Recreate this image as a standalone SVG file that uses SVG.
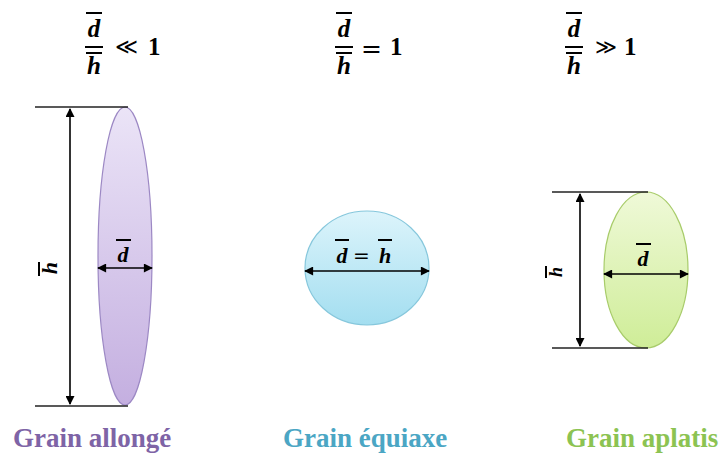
<svg xmlns="http://www.w3.org/2000/svg" width="719" height="454" viewBox="0 0 719 454">
<style>
.m{font-family:"Liberation Serif","DejaVu Serif",serif;font-weight:bold;font-style:italic;fill:#000}
.n{font-family:"Liberation Serif","DejaVu Serif",serif;font-weight:bold;fill:#000}
.op{font-family:"DejaVu Serif","Liberation Serif",serif;fill:#000}
.bar{stroke:#000;stroke-width:2}
.dim{stroke:#000;stroke-width:1.6;fill:none}
.ext{stroke:#222;stroke-width:1.3}
.lbl{font-family:"Liberation Serif","Times New Roman",serif;font-weight:bold;font-size:27px}
</style>
<defs>
<marker id="ah" viewBox="0 0 10 10" refX="9" refY="5" markerWidth="10" markerHeight="9" markerUnits="userSpaceOnUse" orient="auto-start-reverse">
<path d="M0,0 L10,5 L0,10 z" fill="#000"/>
</marker>
<linearGradient id="gp" x1="0" y1="0" x2="0" y2="1"><stop offset="0" stop-color="#ebe4f7"/><stop offset="1" stop-color="#c4afe0"/></linearGradient>
<linearGradient id="gb" x1="0" y1="0" x2="0" y2="1"><stop offset="0" stop-color="#dcf4fb"/><stop offset="1" stop-color="#a3def0"/></linearGradient>
<linearGradient id="gg" x1="0" y1="0" x2="0" y2="1"><stop offset="0" stop-color="#eff9d8"/><stop offset="1" stop-color="#cfed98"/></linearGradient>
</defs>

<g id="title-allonge">
<line class="bar" x1="86" y1="13" x2="102" y2="13"/>
<text class="m" x="94" y="37" font-size="25" text-anchor="middle">d</text>
<line class="bar" x1="85" y1="47" x2="103" y2="47"/>
<line class="bar" x1="86" y1="53" x2="102" y2="53"/>
<text class="m" x="94" y="74" font-size="25" text-anchor="middle">h</text>
<text class="op" x="115" y="54" font-size="22">≪</text>
<text class="n" x="148" y="55" font-size="25">1</text>
</g>

<g id="title-equiaxe">
<line class="bar" x1="336" y1="13" x2="352" y2="13"/>
<text class="m" x="344" y="37" font-size="25" text-anchor="middle">d</text>
<line class="bar" x1="335" y1="47" x2="353" y2="47"/>
<line class="bar" x1="336" y1="53" x2="352" y2="53"/>
<text class="m" x="344" y="74" font-size="25" text-anchor="middle">h</text>
<text class="op" x="361" y="57" font-size="25">=</text>
<text class="n" x="390" y="55" font-size="25">1</text>
</g>

<g id="title-aplatis">
<line class="bar" x1="566" y1="13" x2="582" y2="13"/>
<text class="m" x="574" y="37" font-size="25" text-anchor="middle">d</text>
<line class="bar" x1="565" y1="47" x2="583" y2="47"/>
<line class="bar" x1="566" y1="53" x2="582" y2="53"/>
<text class="m" x="574" y="74" font-size="25" text-anchor="middle">h</text>
<text class="op" x="595" y="54" font-size="21">≫</text>
<text class="n" x="624" y="55" font-size="25">1</text>
</g>

<g id="grain-allonge">
<ellipse cx="125" cy="256" rx="27" ry="149" fill="url(#gp)" stroke="#9c88c4" stroke-width="1.2"/>
<text class="m" x="123" y="262" font-size="22" text-anchor="middle">d</text>
<line class="bar" x1="116" y1="240" x2="131" y2="240" stroke-width="1.5"/>
<g transform="translate(57,268) rotate(-90)">
<text class="m" x="0" y="0" font-size="22" text-anchor="middle">h</text>
</g>
<line class="bar" x1="39" y1="262" x2="39" y2="276" stroke-width="1.5"/>
<text class="lbl" x="13" y="447" fill="#7e64a6">Grain allongé</text>
</g>

<g id="grain-equiaxe">
<ellipse cx="367" cy="268" rx="62" ry="57" fill="url(#gb)" stroke="#86c7dc" stroke-width="1.2"/>
<line class="bar" x1="335" y1="240" x2="349" y2="240" stroke-width="1.5"/>
<text class="m" x="342" y="263" font-size="22" text-anchor="middle">d</text>
<text class="op" x="353" y="263" font-size="20">=</text>
<line class="bar" x1="378" y1="240" x2="392" y2="240" stroke-width="1.5"/>
<text class="m" x="385" y="263" font-size="22" text-anchor="middle">h</text>
<text class="lbl" x="283" y="447" fill="#4ba6c4">Grain équiaxe</text>
</g>

<g id="grain-aplatis">
<ellipse cx="646" cy="270" rx="42" ry="78" fill="url(#gg)" stroke="#a8cc6a" stroke-width="1.2"/>
<line class="bar" x1="636" y1="244" x2="651" y2="244" stroke-width="1.5"/>
<text class="m" x="643" y="266" font-size="22" text-anchor="middle">d</text>
<g transform="translate(562,272) rotate(-90)">
<text class="m" x="0" y="0" font-size="18" text-anchor="middle">h</text>
</g>
<line class="bar" x1="546" y1="266" x2="546" y2="278" stroke-width="1.5"/>
<text class="lbl" x="566" y="447" fill="#8cc352">Grain aplatis</text>
</g>

<g id="connectors">
<line class="ext" x1="35" y1="107" x2="128" y2="107"/>
<line class="ext" x1="35" y1="406" x2="128" y2="406"/>
<line class="dim" x1="70" y1="109" x2="70" y2="404" marker-start="url(#ah)" marker-end="url(#ah)"/>
<line class="dim" x1="98" y1="268" x2="152" y2="268" marker-start="url(#ah)" marker-end="url(#ah)"/>
<line class="dim" x1="305" y1="271" x2="429" y2="271" marker-start="url(#ah)" marker-end="url(#ah)"/>
<line class="ext" x1="552" y1="192" x2="648" y2="192"/>
<line class="ext" x1="552" y1="348" x2="648" y2="348"/>
<line class="dim" x1="580" y1="194" x2="580" y2="346" marker-start="url(#ah)" marker-end="url(#ah)"/>
<line class="dim" x1="604" y1="274" x2="688" y2="274" marker-start="url(#ah)" marker-end="url(#ah)"/>
</g>
</svg>
